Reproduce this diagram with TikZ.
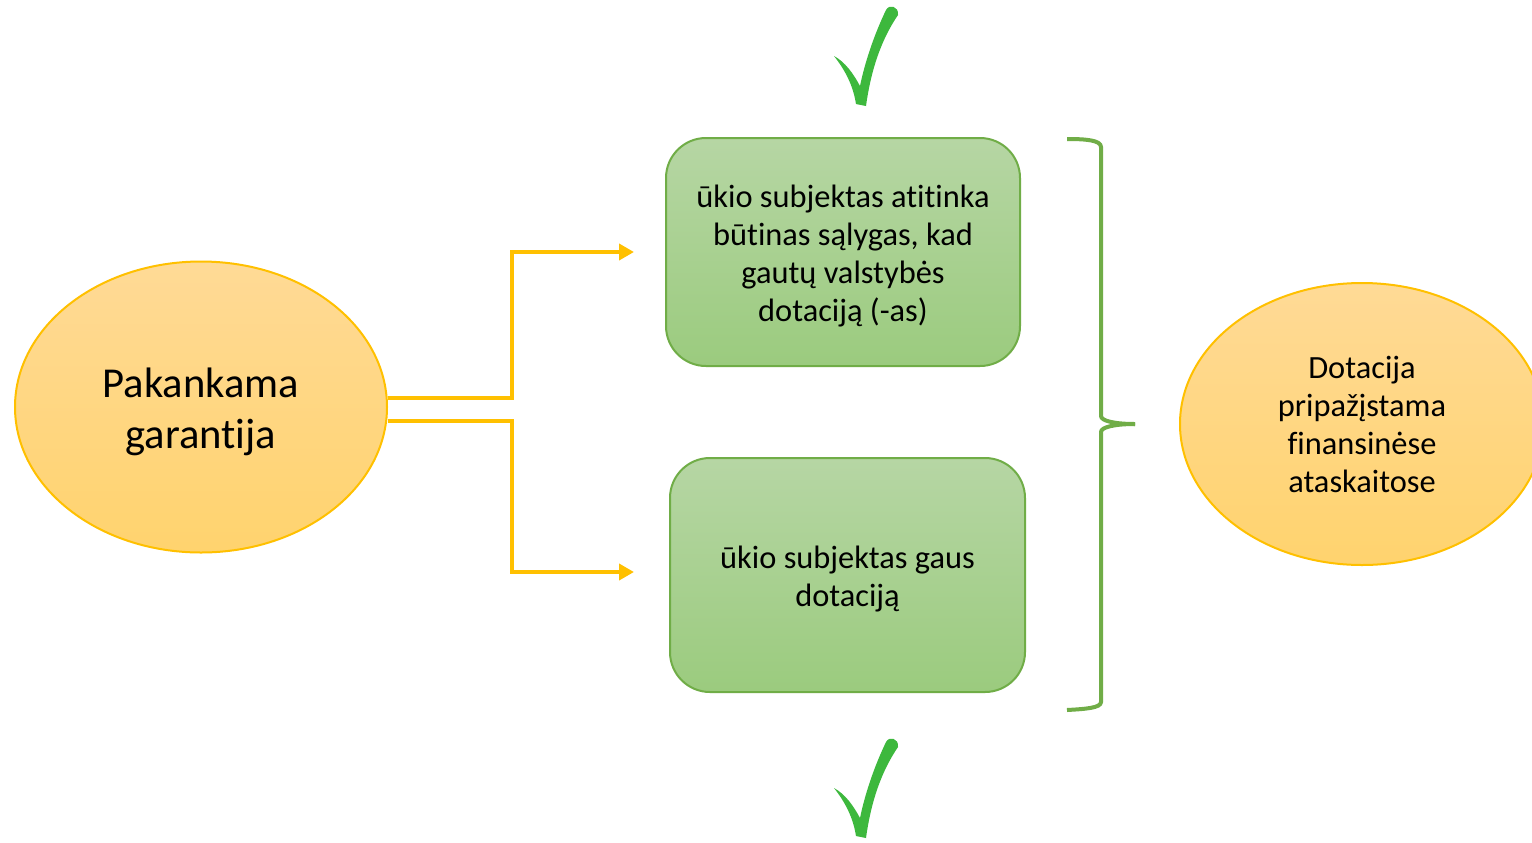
\documentclass[tikz,border=0pt]{standalone}
\usepackage{fontspec}
\setmainfont{Carlito}[RawFeature={-liga}]
\usetikzlibrary{shapes.geometric,arrows.meta}
\definecolor{ygold}{HTML}{FFC000}
\definecolor{elltop}{HTML}{FFDA96}
\definecolor{ellbot}{HTML}{FFD36E}
\definecolor{gline}{HTML}{70AD47}
\definecolor{boxtop}{HTML}{B6D6A4}
\definecolor{boxbot}{HTML}{9BCB7E}
\definecolor{checkg}{HTML}{3DB83D}
\newcommand{\lowered}[2]{\raisebox{-#1}[\height][\depth]{\begin{tabular}{@{}c@{}}#2\end{tabular}}}
\tikzset{
  oval/.style={ellipse, draw=ygold, line width=1pt, top color=elltop, bottom color=ellbot, inner sep=0pt, align=center},
  gbox/.style={rectangle, rounded corners=20pt, draw=gline, line width=1pt, top color=boxtop, bottom color=boxbot, inner sep=0pt, align=center},
  conn/.style={draw=ygold, line width=2pt, -{Triangle[length=7.5pt,width=8pt]}},
  brace/.style={draw=gline, line width=2pt},
  boxtext/.style={font=\fontsize{16.2pt}{19pt}\selectfont},
  checkmark/.style={fill=checkg, draw=none}
}
\begin{document}
\begin{tikzpicture}[x=0.5pt,y=-0.5pt]
\clip (0,0) rectangle (1532,842);
\fill[white] (0,0) rectangle (1532,842);
\node[oval, minimum width=186pt, minimum height=145.5pt, font=\fontsize{21.3pt}{25.5pt}\selectfont] (L) at (201,407) {\lowered{3pt}{Pakankama\\garantija}};
\node[gbox, minimum width=177pt, minimum height=114pt, boxtext] (T) at (843,252) {\lowered{2.5pt}{ūkio subjektas atitinka\\būtinas sąlygas, kad\\gautų valstybės\\dotaciją (-as)}};
\node[gbox, minimum width=177.5pt, minimum height=117pt, boxtext] (B) at (847.5,575) {\lowered{2.5pt}{ūkio subjektas gaus\\dotaciją}};
\node[oval, minimum width=182pt, minimum height=141pt, boxtext] (R) at (1362,424) {\lowered{2pt}{Dotacija\\pripažįstama\\finansinėse\\ataskaitose}};
\draw[conn] ([yshift=4.5pt]L.east) -- ++(124,0) |- ([xshift=-15.5pt]T.west);
\draw[conn] ([yshift=-7pt]L.east) -- ++(124,0) |- ([xshift=-17.5pt,yshift=1.5pt]B.west);
\draw[brace] (1067,139) .. controls (1085,139) and (1101,140) .. (1101,147) -- (1101,416) .. controls (1101,421) and (1115,424) .. (1135,424);
\draw[brace] (1135,424) .. controls (1115,424) and (1101,427) .. (1101,432) -- (1101,702) .. controls (1101,708) and (1085,709) .. (1067,710);
\foreach \dy in {0,732} {
  \fill[checkmark, yshift=-\dy*0.5pt] (834,56) .. controls (845,70) and (853,85) .. (856,104) -- (866,106) .. controls (871,70) and (881,40) .. (898,15) .. controls (899,6) and (889,4) .. (886,10) .. controls (874,35) and (865,62) .. (860,86) .. controls (853,73) and (845,62) .. (834,56) -- cycle;
}
\end{tikzpicture}
\end{document}
